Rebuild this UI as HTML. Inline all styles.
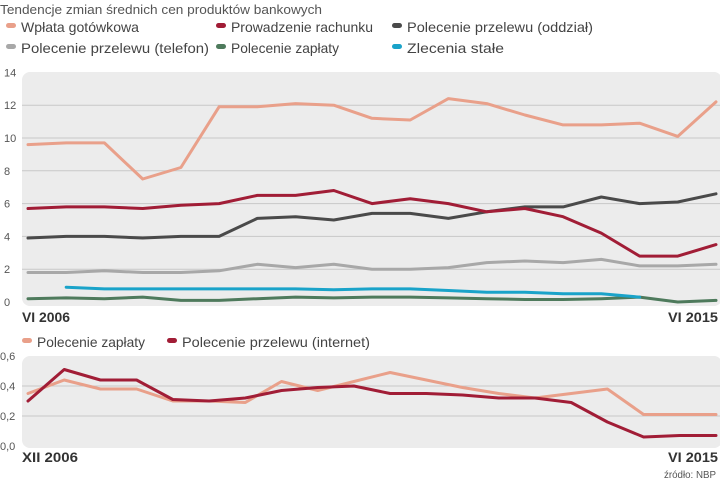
<!DOCTYPE html>
<html><head><meta charset="utf-8"><style>
html,body{margin:0;padding:0;background:#fff;width:720px;height:482px;overflow:hidden}
svg{display:block;font-family:"Liberation Sans",sans-serif}
</style></head><body>
<svg id="c" width="720" height="482" viewBox="0 0 720 482">
<text x="0" y="14" font-size="13" fill="#555" textLength="322" lengthAdjust="spacingAndGlyphs">Tendencje zmian średnich cen produktów bankowych</text>
<rect x="22" y="72" width="700" height="234" rx="8" fill="#ececec"/>
<rect x="22" y="356" width="700" height="92" rx="8" fill="#ececec"/>
<g id="topg"></g><g id="botg"></g><g id="legg"></g>
<text x="22" y="322" font-size="14" font-weight="bold" fill="#333" textLength="48" lengthAdjust="spacingAndGlyphs">VI  2006</text>
<text x="718" y="322" font-size="14" font-weight="bold" fill="#333" text-anchor="end" textLength="50" lengthAdjust="spacingAndGlyphs">VI 2015</text>
<text x="22" y="462" font-size="14" font-weight="bold" fill="#333" textLength="56" lengthAdjust="spacingAndGlyphs">XII 2006</text>
<text x="718" y="462" font-size="14" font-weight="bold" fill="#333" text-anchor="end" textLength="50" lengthAdjust="spacingAndGlyphs">VI 2015</text>
<text x="716" y="478" font-size="10" fill="#555" text-anchor="end" textLength="52" lengthAdjust="spacingAndGlyphs">źródło: NBP</text>
</svg>
<script>
const topTicks=[0,2,4,6,8,10,12,14];
const botTicks=["0,0","0,2","0,4","0,6"];
const botTickVals=[0,0.2,0.4,0.6];
const wplata=[9.6,9.7,9.7,7.5,8.2,11.9,11.9,12.1,12.0,11.2,11.1,12.4,12.1,11.4,10.8,10.8,10.9,10.1,12.2];
const prowadzenie=[5.7,5.8,5.8,5.7,5.9,6.0,6.5,6.5,6.8,6.0,6.3,6.0,5.5,5.7,5.2,4.2,2.8,2.8,3.5];
const oddzial=[3.9,4.0,4.0,3.9,4.0,4.0,5.1,5.2,5.0,5.4,5.4,5.1,5.5,5.8,5.8,6.4,6.0,6.1,6.6];
const telefon=[1.8,1.8,1.9,1.8,1.8,1.9,2.3,2.1,2.3,2.0,2.0,2.1,2.4,2.5,2.4,2.6,2.2,2.2,2.3];
const zaplatyTop=[0.2,0.25,0.2,0.3,0.1,0.1,0.2,0.3,0.25,0.3,0.3,0.25,0.2,0.15,0.15,0.2,0.3,0.0,0.1];
const zlecenia=[null,0.9,0.8,0.8,0.8,0.8,0.8,0.8,0.75,0.8,0.8,0.7,0.6,0.6,0.5,0.5,0.3];
const zaplatyBot=[0.35,0.44,0.38,0.38,0.30,0.30,0.29,0.43,0.37,0.43,0.49,0.44,0.39,0.35,0.32,0.35,0.38,0.21,0.21,0.21];
const internet=[0.30,0.51,0.44,0.44,0.31,0.30,0.32,0.37,0.39,0.40,0.35,0.35,0.34,0.32,0.32,0.29,0.16,0.06,0.07,0.07];
const NS="http://www.w3.org/2000/svg";
const xTop=i=>28+i*(688/18), yTop=v=>302-v*16.4;
const xBot=i=>28+i*(688/19), yBot=v=>446-v*150;
function mk(t,a,p){const e=document.createElementNS(NS,t);for(const k in a)e.setAttribute(k,a[k]);p.appendChild(e);return e;}
const gTop=document.getElementById('topg'),gBot=document.getElementById('botg'),gLeg=document.getElementById('legg');
topTicks.forEach(v=>{
 if(v>0&&v<14){const l=mk('line',{x1:22,x2:720,y1:yTop(v),y2:yTop(v),stroke:'#c8c8c8','stroke-width':1},gTop);
 
 }
 const t=mk('text',{x:4,y:yTop(v)+4,'font-size':11,fill:'#555'},gTop);t.textContent=v;
 
 
});
botTickVals.forEach((v,i)=>{
 if(v>0&&v<0.6){const l=mk('line',{x1:22,x2:720,y1:yBot(v),y2:yBot(v),stroke:'#c8c8c8','stroke-width':1},gBot);
 
 }
 const t=mk('text',{x:0,y:yBot(v)+4,'font-size':11,fill:'#555'},gBot);t.textContent=botTicks[i];
 
 
});
function line(arr,xf,yf,col,g,name){
 let d='';arr.forEach((v,i)=>{if(v==null)return;d+=(d?'L':'M')+xf(i).toFixed(1)+','+yf(v).toFixed(1);});
 const p=mk('path',{d:d,fill:'none',stroke:col,'stroke-width':3,'stroke-linejoin':'round','stroke-linecap':'round'},g);
 
 
}
line(zaplatyTop,xTop,yTop,'#4e7a5c',gTop,'series-polecenie-zaplaty');
line(zlecenia,xTop,yTop,'#1aa3c9',gTop,'series-zlecenia-stale');
line(telefon,xTop,yTop,'#a8a8a8',gTop,'series-przelew-telefon');
line(oddzial,xTop,yTop,'#4a4a4a',gTop,'series-przelew-oddzial');
line(prowadzenie,xTop,yTop,'#a11d36',gTop,'series-prowadzenie-rachunku');
line(wplata,xTop,yTop,'#e9a08a',gTop,'series-wplata-gotowkowa');
line(zaplatyBot,xBot,yBot,'#e9a08a',gBot,'series-bottom-polecenie-zaplaty');
line(internet,xBot,yBot,'#a11d36',gBot,'series-przelew-internet');
const legs=[[6,28,'#e9a08a','Wpłata gotówkowa',118],[216,28,'#a11d36','Prowadzenie rachunku',142],[392,28,'#4a4a4a','Polecenie przelewu (oddział)',186],
[6,49,'#a8a8a8','Polecenie przelewu (telefon)',188],[216,49,'#4e7a5c','Polecenie zapłaty',108],[392,49,'#1aa3c9','Zlecenia stałe',97],
[22,343,'#e9a08a','Polecenie zapłaty',108],[167,343,'#a11d36','Polecenie przelewu (internet)',188]];
legs.forEach(l=>{
 const r=mk('rect',{x:l[0],y:l[1]-5,width:10,height:5,rx:2.5,fill:l[2]},gLeg);
 
 
 const t=mk('text',{x:l[0]+15,y:l[1]+4,'font-size':14,fill:'#444',textLength:l[4],lengthAdjust:'spacingAndGlyphs'},gLeg);t.textContent=l[3];
 
 
});
</script>
</body></html>
